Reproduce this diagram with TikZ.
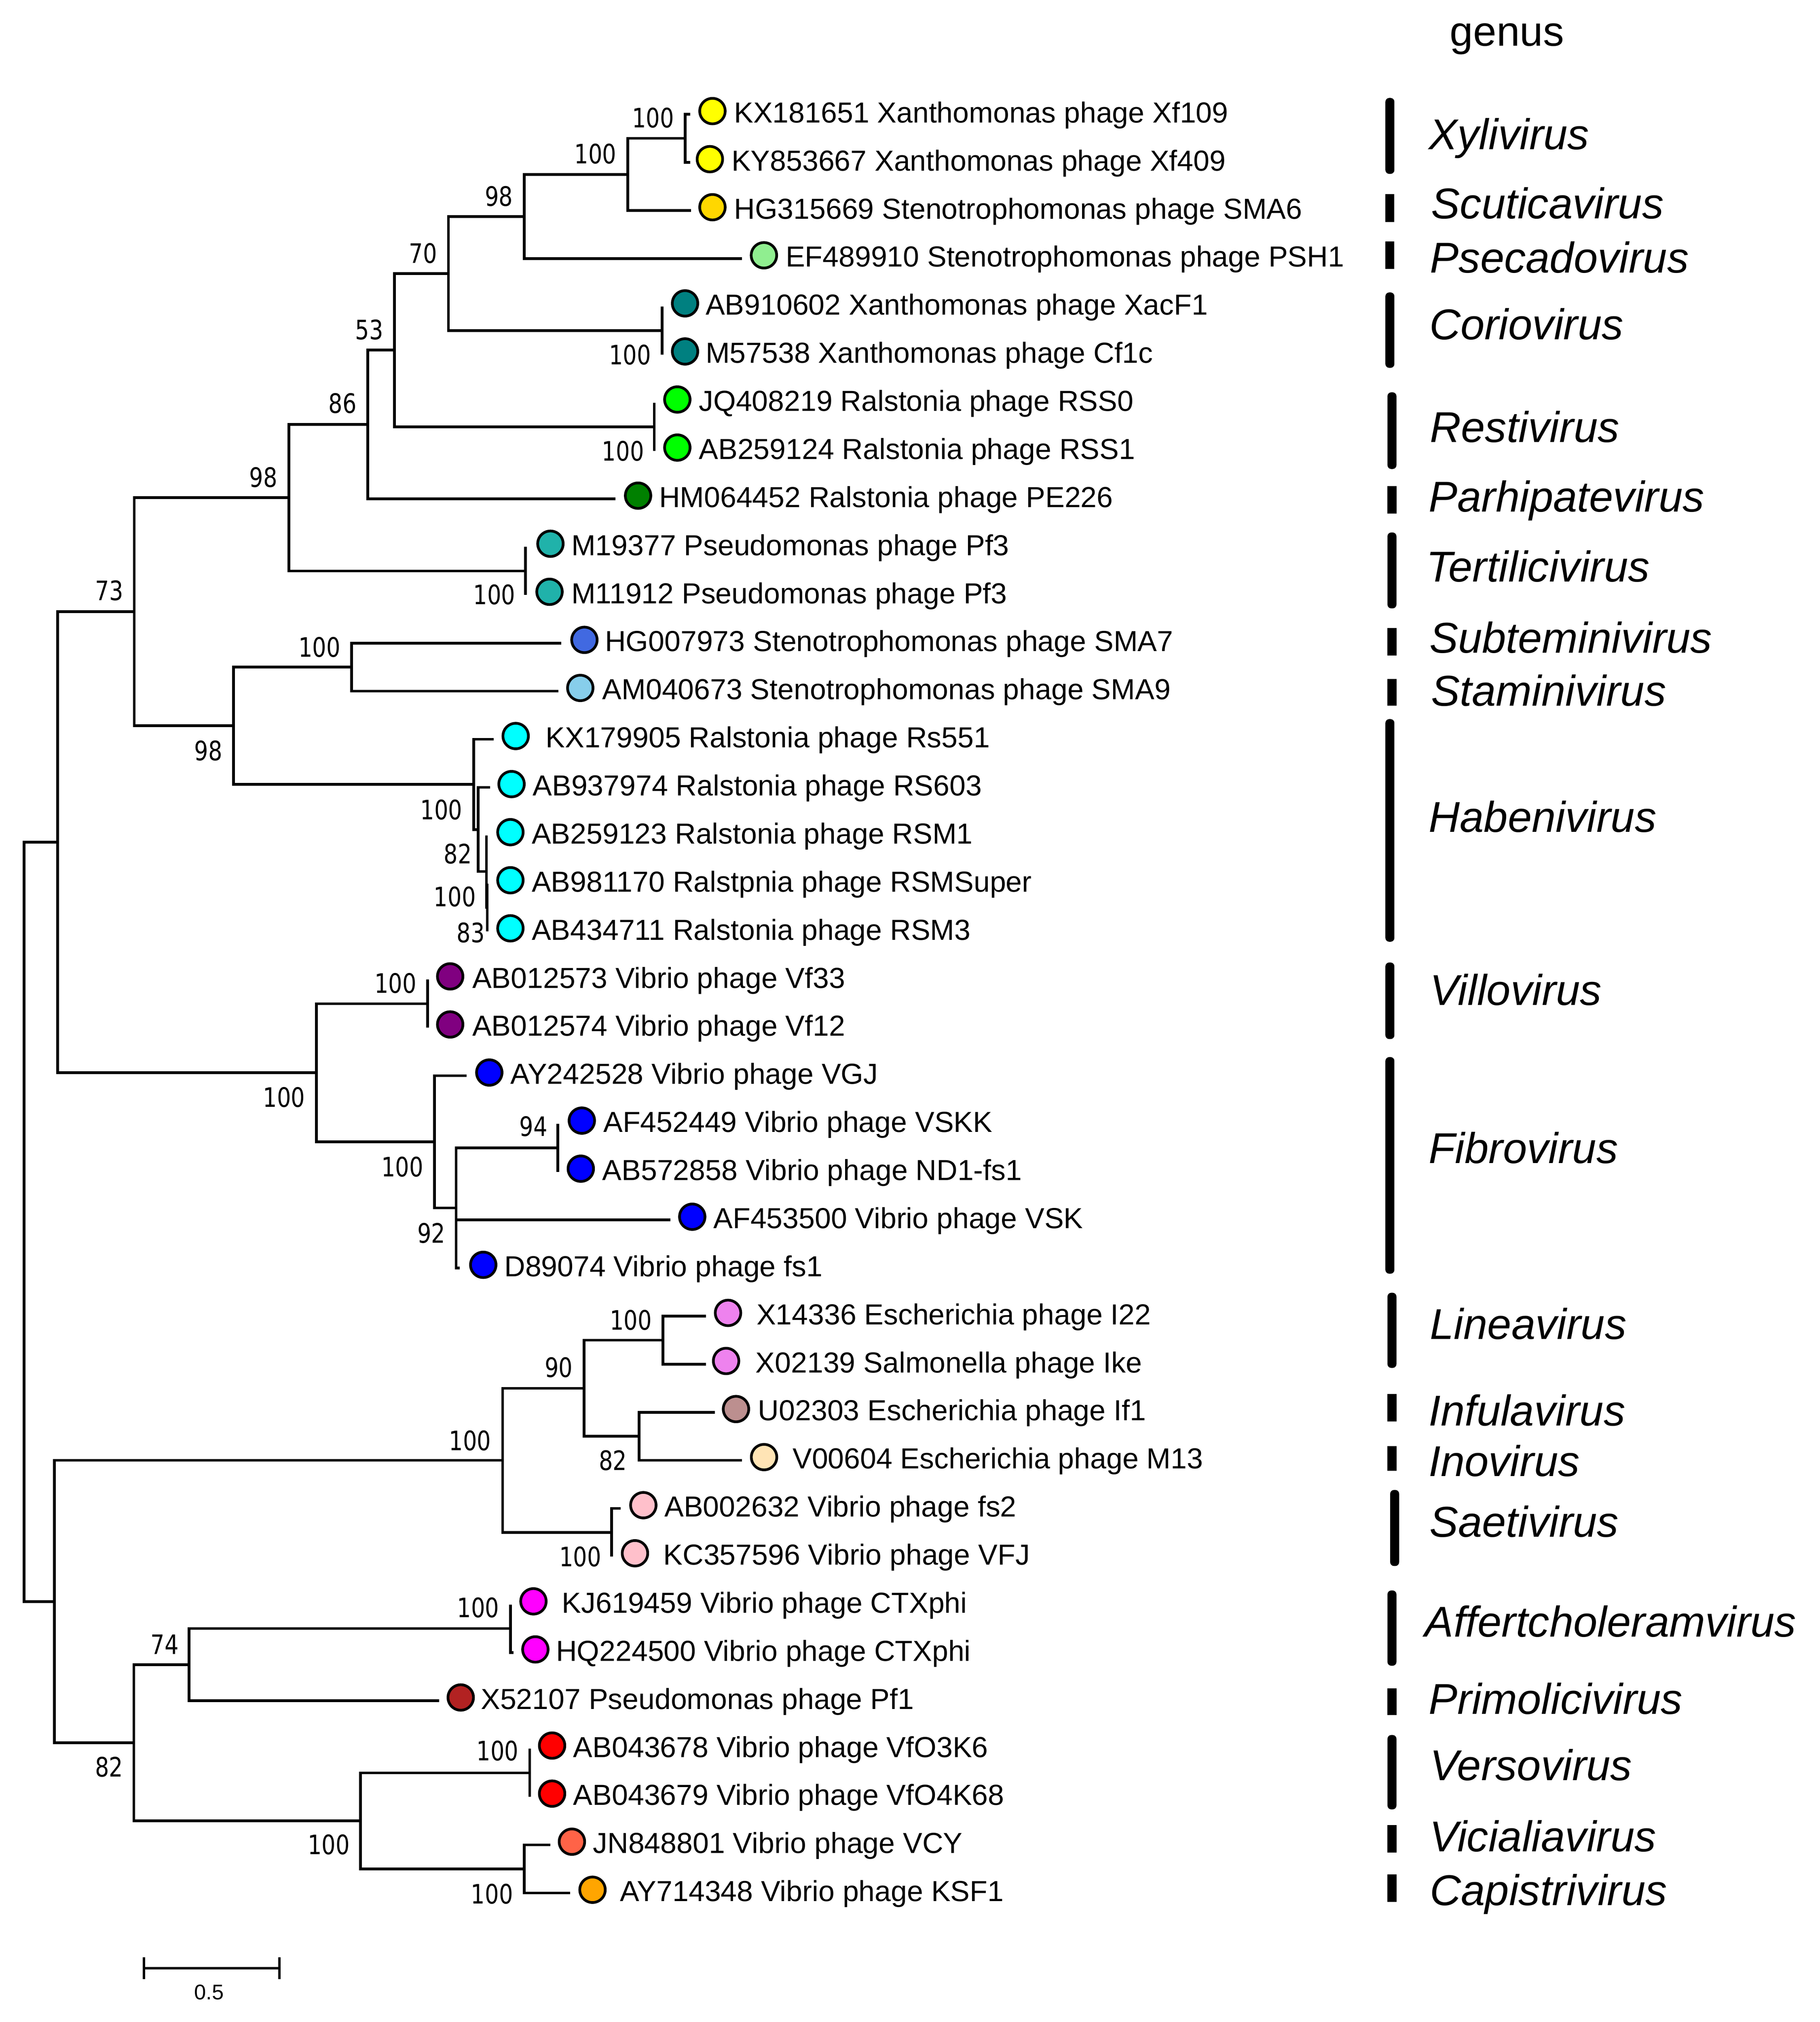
\documentclass[tikz,border=0pt]{standalone}
\usepackage{fontspec}
\setmainfont{Liberation Sans}
\newfontfamily\bootfont[FakeStretch=0.82]{DejaVu Sans}
\definecolor{cyellow}{HTML}{FFFF00}
\definecolor{cgold}{HTML}{FFD700}
\definecolor{clgreen}{HTML}{90EE90}
\definecolor{cteal}{HTML}{008080}
\definecolor{clime}{HTML}{00FF00}
\definecolor{cgreen}{HTML}{008000}
\definecolor{clsg}{HTML}{20B2AA}
\definecolor{croyal}{HTML}{4169E1}
\definecolor{csky}{HTML}{87CEEB}
\definecolor{ccyan}{HTML}{00FFFF}
\definecolor{cpurple}{HTML}{800080}
\definecolor{cblue}{HTML}{0000FF}
\definecolor{cviolet}{HTML}{EE82EE}
\definecolor{crosy}{HTML}{BC8F8F}
\definecolor{cmocc}{HTML}{FFE4B5}
\definecolor{cpink}{HTML}{FFC0CB}
\definecolor{cmag}{HTML}{FF00FF}
\definecolor{cfire}{HTML}{B22222}
\definecolor{cred}{HTML}{FF0000}
\definecolor{ctomato}{HTML}{FF6347}
\definecolor{corange}{HTML}{FFA500}
% #1 row, #2 parent, #3 branch end x, #4 circle x, #5 text x, #6 colour, #7 text
\newcommand\phyleaf[7]{%
  \pgfmathsetmacro\rowy{88.8+(#1-1)*37.35}%
  \coordinate (e#1) at (#3,\rowy);
  \draw[branch] (#2) |- (e#1);
  \node[tip,fill=#6] (c#1) at (#4,\rowy-2.5) {};
  \node[leaftext] (t#1) at (#5-1,\rowy+6.5) {#7};
}
\newcommand\genusbar[3]{\fill[black,rounded corners=3pt] (#1-3.5,#2) rectangle (#1+3.5,#3);}
\newcommand\genusblock[3]{\fill[black] (#1-3.5,#2) rectangle (#1+3.5,#3);}
\begin{document}
\begin{tikzpicture}[x=1pt,y=-1pt,
  branch/.style={line width=2.1pt},
  tip/.style={circle,draw=black,line width=2.1pt,minimum size=19.8pt,inner sep=0pt},
  leaftext/.style={anchor=base west,inner sep=0pt,font=\fontsize{22.5}{26}\selectfont},
  boot/.style={inner sep=0pt,font=\bootfont\fontsize{20.8}{24}\selectfont},
  genus/.style={anchor=base west,inner sep=0pt,font=\fontsize{33.5}{40}\selectfont\itshape},
  ]
\path[use as bounding box,fill=white] (0,0) rectangle (1414,1571);

% internal nodes
\coordinate (nXf) at (532.4,107.5);
\coordinate (nA) at (487.7,135.5);
\coordinate (nB) at (407.3,168.2);
\coordinate (nCo) at (514.5,256.9);
\coordinate (nC) at (348.4,212.5);
\coordinate (nRe) at (508.4,331.6);
\coordinate (nD) at (306.6,272.0);
\coordinate (nE) at (285.8,329.8);
\coordinate (nTe) at (408.4,443.6);
\coordinate (nF) at (224.4,386.7);
\coordinate (nSM) at (273.3,518.3);
\coordinate (nH1) at (368,609.4);
\coordinate (nH2) at (371.6,644.5);
\coordinate (nH3) at (378,677.1);
\coordinate (nH4) at (378.6,705.1);
\coordinate (nG) at (181.5,563.9);
\coordinate (nU) at (104.3,475.3);
\coordinate (nVi) at (332.3,779.8);
\coordinate (n94) at (433.4,891.8);
\coordinate (n92) at (354.4,938.5);
\coordinate (nFi) at (337.6,887.2);
\coordinate (nVF) at (245.8,833.5);
\coordinate (nUp) at (44.7,654.4);
\coordinate (nLi) at (515.2,1041.2);
\coordinate (n82a) at (496.6,1115.9);
\coordinate (n90) at (453.8,1078.6);
\coordinate (nSa) at (475.2,1190.6);
\coordinate (nL1) at (390.5,1134.6);
\coordinate (nCT) at (396.6,1265.3);
\coordinate (n74) at (146.9,1293.3);
\coordinate (nVe) at (411.6,1377.4);
\coordinate (nVK) at (407.3,1452.1);
\coordinate (nL2) at (280.1,1414.7);
\coordinate (n82b) at (104,1354);
\coordinate (nLo) at (42.2,1244.3);
\coordinate (nR) at (18.6,949.3);

% internal branches
\foreach \p/\c in {nA/nXf,nB/nA,nC/nB,nC/nCo,nD/nC,nD/nRe,nE/nD,nF/nE,nF/nTe,
  nU/nF,nU/nG,nG/nSM,nG/nH1,nH1/nH2,nH2/nH3,nH3/nH4,nUp/nU,nUp/nVF,nVF/nVi,
  nVF/nFi,nFi/n92,n92/n94,nR/nUp,nR/nLo,nLo/nL1,nLo/n82b,nL1/n90,nL1/nSa,
  n90/nLi,n90/n82a,n82b/n74,n82b/nL2,n74/nCT,nL2/nVe,nL2/nVK}
  {\draw[branch] (\p) |- (\c);}

% leaves
\phyleaf{1}{nXf}{536.3}{553.6}{571.2}{cyellow}{KX181651 Xanthomonas phage Xf109}
\phyleaf{2}{nXf}{536.3}{551.6}{569.2}{cyellow}{KY853667 Xanthomonas phage Xf409}
\phyleaf{3}{nA}{537.1}{553.6}{571.2}{cgold}{HG315669 Stenotrophomonas phage SMA6}
\phyleaf{4}{nB}{576.4}{593.6}{611.3}{clgreen}{EF489910 Stenotrophomonas phage PSH1}
\phyleaf{5}{nCo}{514.5}{532.3}{549.1}{cteal}{AB910602 Xanthomonas phage XacF1}
\phyleaf{6}{nCo}{514.5}{532.3}{549.1}{cteal}{M57538 Xanthomonas phage Cf1c}
\phyleaf{7}{nRe}{508.4}{526.3}{543.9}{clime}{JQ408219 Ralstonia phage RSS0}
\phyleaf{8}{nRe}{508.4}{526.3}{543.9}{clime}{AB259124 Ralstonia phage RSS1}
\phyleaf{9}{nE}{478.1}{495.8}{513}{cgreen}{HM064452 Ralstonia phage PE226}
\phyleaf{10}{nTe}{408.4}{427.7}{444.8}{clsg}{M19377 Pseudomonas phage Pf3}
\phyleaf{11}{nTe}{408.4}{427}{444.8}{clsg}{M11912 Pseudomonas phage Pf3}
\phyleaf{12}{nSM}{436}{454.1}{470.9}{croyal}{HG007973 Stenotrophomonas phage SMA7}
\phyleaf{13}{nSM}{434}{450.9}{468.9}{csky}{AM040673 Stenotrophomonas phage SMA9}
\phyleaf{14}{nH1}{383.5}{400.7}{424.8}{ccyan}{KX179905 Ralstonia phage Rs551}
\phyleaf{15}{nH2}{380.7}{397.5}{414.8}{ccyan}{AB937974 Ralstonia phage RS603}
\phyleaf{16}{nH3}{378}{396.6}{414}{ccyan}{AB259123 Ralstonia phage RSM1}
\phyleaf{17}{nH4}{378.6}{396.6}{414}{ccyan}{AB981170 Ralstpnia phage RSMSuper}
\phyleaf{18}{nH4}{378.6}{396.6}{414}{ccyan}{AB434711 Ralstonia phage RSM3}
\phyleaf{19}{nVi}{332.3}{349.8}{367.8}{cpurple}{AB012573 Vibrio phage Vf33}
\phyleaf{20}{nVi}{332.3}{349.8}{367.8}{cpurple}{AB012574 Vibrio phage Vf12}
\phyleaf{21}{nFi}{362.7}{380.2}{397.5}{cblue}{AY242528 Vibrio phage VGJ}
\phyleaf{22}{n94}{433.4}{452.1}{469.7}{cblue}{AF452449 Vibrio phage VSKK}
\phyleaf{23}{n94}{433.4}{451.3}{468.9}{cblue}{AB572858 Vibrio phage ND1-fs1}
\phyleaf{24}{n92}{521}{537.9}{555.2}{cblue}{AF453500 Vibrio phage VSK}
\phyleaf{25}{n92}{357.3}{375.5}{392.7}{cblue}{D89074 Vibrio phage fs1}
\phyleaf{26}{nLi}{548.5}{565.7}{588.7}{cviolet}{X14336 Escherichia phage I22}
\phyleaf{27}{nLi}{548.5}{564.2}{588}{cviolet}{X02139 Salmonella phage Ike}
\phyleaf{28}{n82a}{555.4}{571.9}{589.9}{crosy}{U02303 Escherichia phage If1}
\phyleaf{29}{n82a}{576.4}{593.7}{616.7}{cmocc}{V00604 Escherichia phage M13}
\phyleaf{30}{nSa}{482.4}{499.9}{517.1}{cpink}{AB002632 Vibrio phage fs2}
\phyleaf{31}{nSa}{475.2}{493.4}{516.3}{cpink}{KC357596 Vibrio phage VFJ}
\phyleaf{32}{nCT}{396.6}{414.5}{437.5}{cmag}{KJ619459 Vibrio phage CTXphi}
\phyleaf{33}{nCT}{399}{416}{432.9}{cmag}{HQ224500 Vibrio phage CTXphi}
\phyleaf{34}{n74}{341.2}{358}{374.5}{cfire}{X52107 Pseudomonas phage Pf1}
\phyleaf{35}{nVe}{411.6}{429}{446.3}{cred}{AB043678 Vibrio phage VfO3K6}
\phyleaf{36}{nVe}{411.6}{429}{446.3}{cred}{AB043679 Vibrio phage VfO4K68}
\phyleaf{37}{nVK}{427.7}{444.4}{461.6}{ctomato}{JN848801 Vibrio phage VCY}
\phyleaf{38}{nVK}{443}{460.4}{482.6}{corange}{AY714348 Vibrio phage KSF1}

% bootstrap values
\node[boot] (bXf) at (507.4,91.7) {100};
\node[boot] (bA) at (462.7,119.5) {100};
\node[boot] (bB) at (387.7,152.5) {98};
\node[boot] (bC) at (328.7,196.7) {70};
\node[boot] (bCo) at (489.5,275.8) {100};
\node[boot] (bD) at (286.9,256.2) {53};
\node[boot] (bRe) at (484.1,350.3) {100};
\node[boot] (bE) at (266.2,313.3) {86};
\node[boot] (bF) at (204.7,370.9) {98};
\node[boot] (bTe) at (384.1,462) {100};
\node[boot] (bU) at (85,458.8) {73};
\node[boot] (bSM) at (248.3,502.9) {100};
\node[boot] (bG) at (161.9,583.2) {98};
\node[boot] (bH1) at (343,629) {100};
\node[boot] (bH2) at (355.8,663.5) {82};
\node[boot] (bH3) at (353.4,696.6) {100};
\node[boot] (bH4) at (365.8,724.8) {83};
\node[boot] (bVi) at (307.3,764) {100};
\node[boot] (bVF) at (220.8,852.6) {100};
\node[boot] (bFi) at (312.6,906.7) {100};
\node[boot] (b94) at (414.5,875.2) {94};
\node[boot] (b92) at (335.2,958.1) {92};
\node[boot] (bLi) at (490.2,1025.7) {100};
\node[boot] (b90) at (434.1,1062.4) {90};
\node[boot] (bL1) at (365.2,1119.2) {100};
\node[boot] (b82a) at (476.3,1134.6) {82};
\node[boot] (bSa) at (450.9,1209.5) {100};
\node[boot] (bCT) at (371.6,1248.9) {100};
\node[boot] (b74) at (127.9,1277.7) {74};
\node[boot] (b82b) at (84.7,1372.9) {82};
\node[boot] (bVe) at (386.6,1360.4) {100};
\node[boot] (bL2) at (255.5,1433.3) {100};
\node[boot] (bVK) at (382.3,1471.4) {100};

% genus column
\node[anchor=base west,inner sep=0pt,font=\fontsize{32.5}{38}\selectfont] (genushead) at (1126.5,35.7) {genus};
\genusbar{1080}{76.1}{135.1}
\genusblock{1080}{150.8}{172.6}
\genusblock{1080}{187.6}{209}
\genusbar{1080}{227.2}{285.8}
\genusbar{1081.6}{304.8}{364.4}
\genusblock{1081.6}{377.7}{399.1}
\genusbar{1081.6}{413.7}{472.7}
\genusblock{1081.6}{488}{509.2}
\genusblock{1081.6}{527.4}{548.4}
\genusbar{1080}{558.7}{731.7}
\genusbar{1080}{747.8}{807.3}
\genusbar{1080}{821.3}{989.6}
\genusbar{1081.6}{1004.4}{1062.8}
\genusblock{1081.6}{1083.1}{1104.5}
\genusblock{1081.6}{1123.5}{1142.8}
\genusbar{1083.7}{1157.6}{1216.7}
\genusbar{1081.6}{1235.7}{1294.2}
\genusblock{1081.6}{1311.9}{1332.5}
\genusbar{1081.6}{1348}{1405.8}
\genusblock{1081.6}{1417.9}{1439.2}
\genusblock{1081.6}{1456.3}{1477.6}

\node[genus] (gXyl) at (1110,116.1) {Xylivirus};
\node[genus] (gScu) at (1112,169.7) {Scuticavirus};
\node[genus] (gPse) at (1111,211.9) {Psecadovirus};
\node[genus] (gCor) at (1110.5,263.7) {Coriovirus};
\node[genus] (gRes) at (1111,343.7) {Restivirus};
\node[genus] (gPar) at (1110,397.7) {Parhipatevirus};
\node[genus] (gTer) at (1108,452) {Tertilicivirus};
\node[genus] (gSub) at (1110.5,507.4) {Subteminivirus};
\node[genus] (gSta) at (1112,548.5) {Staminivirus};
\node[genus] (gHab) at (1110,646.4) {Habenivirus};
\node[genus] (gVil) at (1111,781) {Villovirus};
\node[genus] (gFib) at (1110,903.7) {Fibrovirus};
\node[genus] (gLin) at (1111,1040.5) {Lineavirus};
\node[genus] (gInf) at (1110,1107.7) {Infulavirus};
\node[genus] (gIno) at (1110,1147) {Inovirus};
\node[genus] (gSae) at (1110.5,1194) {Saetivirus};
\node[genus] (gAff) at (1107,1271.8) {Affertcholeramvirus};
\node[genus] (gPri) at (1110,1331.6) {Primolicivirus};
\node[genus] (gVer) at (1111,1383.4) {Versovirus};
\node[genus] (gVic) at (1110.5,1438.5) {Vicialiavirus};
\node[genus] (gCap) at (1111,1480.2) {Capistrivirus};

% scale bar
\coordinate (sbL) at (111.8,1529.3);
\coordinate (sbR) at (217.1,1529.3);
\coordinate (sbLt) at (111.8,1520.6);
\coordinate (sbLb) at (111.8,1537.6);
\coordinate (sbRt) at (217.1,1520.6);
\coordinate (sbRb) at (217.1,1537.6);
\draw[line width=1.9pt] (sbL) -- (sbR);
\draw[line width=2pt] (sbLt) -- (sbLb);
\draw[line width=2pt] (sbRt) -- (sbRb);
\node[inner sep=0pt,font=\fontsize{16.5}{20}\selectfont] (scaletext) at (162.4,1548) {0.5};
\end{tikzpicture}
\end{document}
